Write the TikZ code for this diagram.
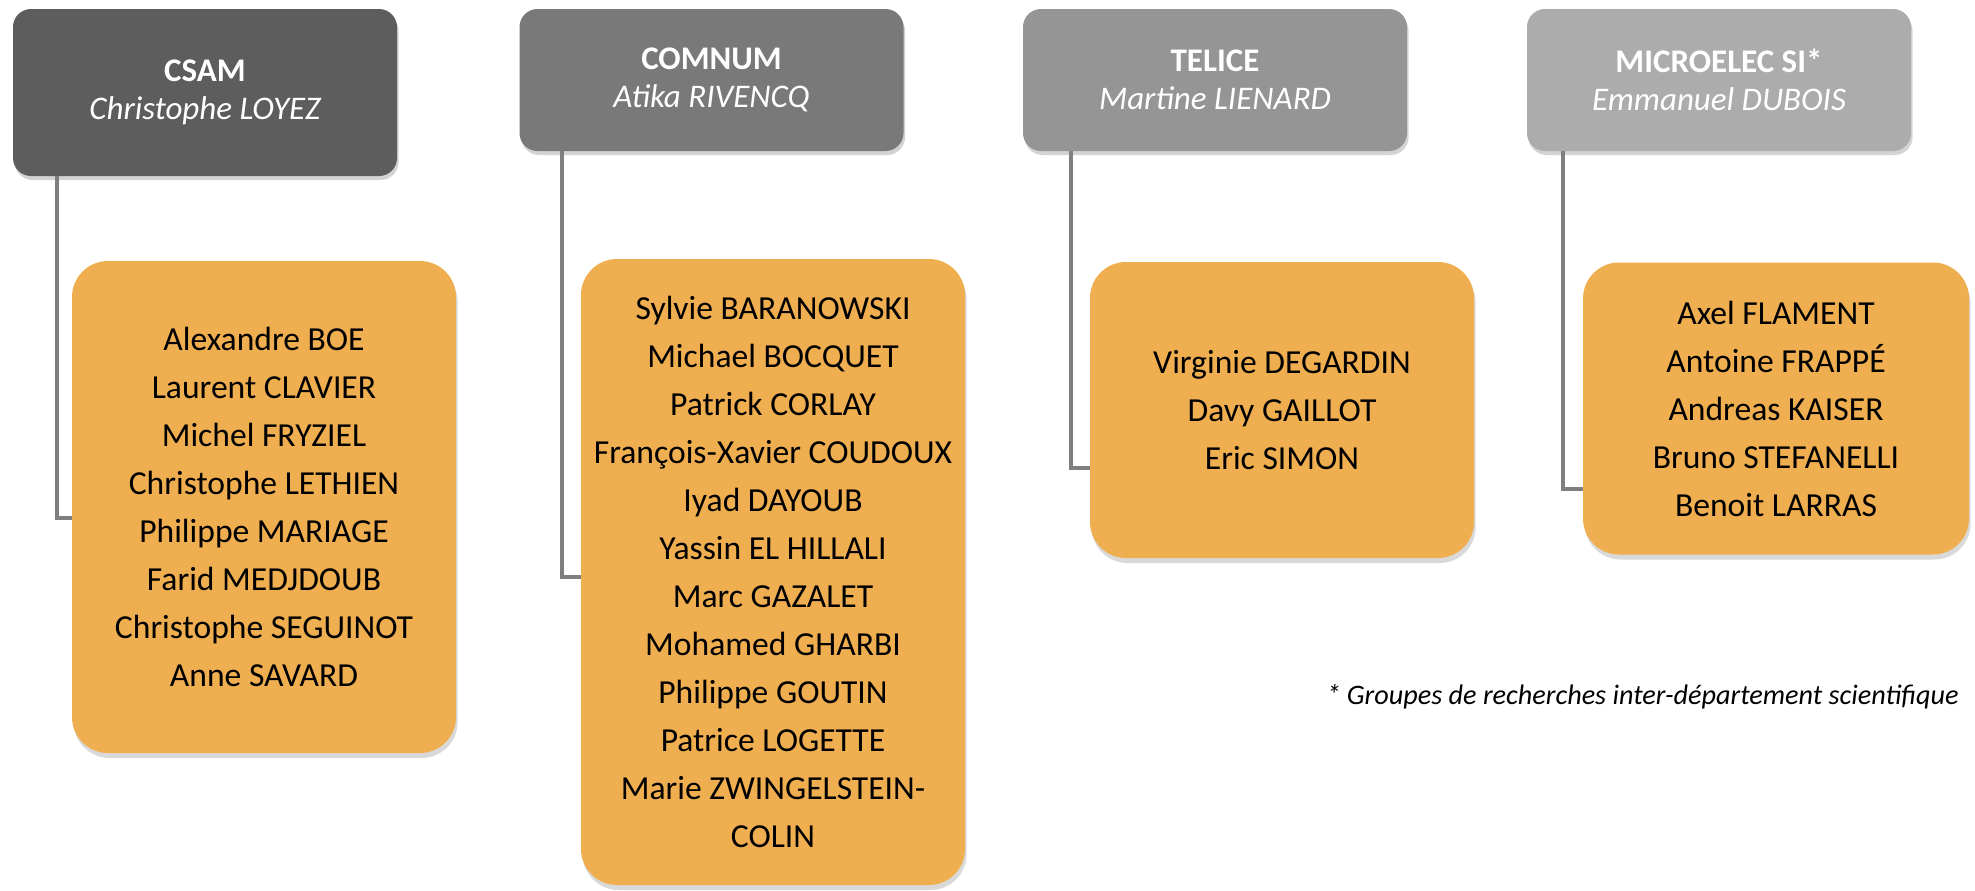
\documentclass[tikz,border=0pt]{standalone}
\usepackage{fontspec}
\setmainfont{Carlito}
\usetikzlibrary{shadows}
\definecolor{gorange}{HTML}{EFAE4F}
\definecolor{glink}{HTML}{7F7F7F}
\definecolor{gcsam}{HTML}{5D5D5D}
\definecolor{gcomnum}{HTML}{7A797A}
\definecolor{gtelice}{HTML}{959595}
\definecolor{gmicro}{HTML}{ACACAC}
\newcommand{\grp}[2]{{\bfseries #1}\\{\itshape #2}}
\begin{document}
\begin{tikzpicture}[x=0.5pt,y=-0.5pt]
        \tikzset{head/.style={rounded corners=9pt, minimum width=192pt, minimum height=71pt,
                 text=white, align=center, font=\fontsize{16.5}{19}\selectfont,
                 drop shadow={opacity=0.35, shadow xshift=0.8pt, shadow yshift=-2pt}}}
        \tikzset{members/.style={rounded corners=18pt, fill=gorange, minimum width=192pt,
                 inner xsep=2pt, align=center, font=\fontsize{16.8}{24}\selectfont,
                 drop shadow={opacity=0.3, shadow xshift=0.8pt, shadow yshift=-2.5pt}}}
        \tikzset{link/.style={draw=glink, line width=2pt}}
        \useasboundingbox (0,0) rectangle (1975,890);
        % group heads
        \node[head, fill=gcsam, minimum height=83.5pt] (csam) at (205,92.5) {\grp{CSAM}{Christophe LOYEZ}};
        \node[head, fill=gcomnum] (comnum) at (711.5,80) {\grp{COMNUM}{Atika RIVENCQ}};
        \node[head, fill=gtelice] (telice) at (1215,80) {\grp{TELICE}{Martine LIENARD}};
        \node[head, fill=gmicro] (micro) at (1719,80) {\grp{MICROELEC SI*}{Emmanuel DUBOIS}};
        % members
        \node[members, minimum height=246pt] (csamlist) at (264,507) {Alexandre BOE\\Laurent CLAVIER\\Michel FRYZIEL\\Christophe LETHIEN\\Philippe MARIAGE\\Farid MEDJDOUB\\Christophe SEGUINOT\\Anne SAVARD};
        \node[members, minimum height=313pt] (comnumlist) at (773,572) {Sylvie BARANOWSKI\\Michael BOCQUET\\Patrick CORLAY\\François-Xavier COUDOUX\\Iyad DAYOUB\\Yassin EL HILLALI\\Marc GAZALET\\Mohamed GHARBI\\Philippe GOUTIN\\Patrice LOGETTE\\Marie ZWINGELSTEIN-\\COLIN};
        \node[members, minimum height=148pt] (telicelist) at (1282,410) {Virginie DEGARDIN\\Davy GAILLOT\\Eric SIMON};
        \node[members, minimum height=146pt, minimum width=193pt] (microlist) at (1776,408.5) {Axel FLAMENT\\Antoine FRAPPÉ\\Andreas KAISER\\Bruno STEFANELLI\\Benoit LARRAS};
        % links
        \draw[link] ([xshift=22pt]csam.south west) |- ([yshift=-5.5pt]csamlist.west);
        \draw[link] ([xshift=21.5pt]comnum.south west) |- ([yshift=-2.25pt]comnumlist.west);
        \draw[link] ([xshift=24pt]telice.south west) |- ([yshift=-28.75pt]telicelist.west);
        \draw[link] ([xshift=18pt]micro.south west) |- ([yshift=-40pt]microlist.west);
        \node[anchor=east, font=\itshape\fontsize{14.1}{17}\selectfont, inner sep=0pt] (note) at (1959,697) {* Groupes de recherches inter-département scientifique};
\end{tikzpicture}
\end{document}
